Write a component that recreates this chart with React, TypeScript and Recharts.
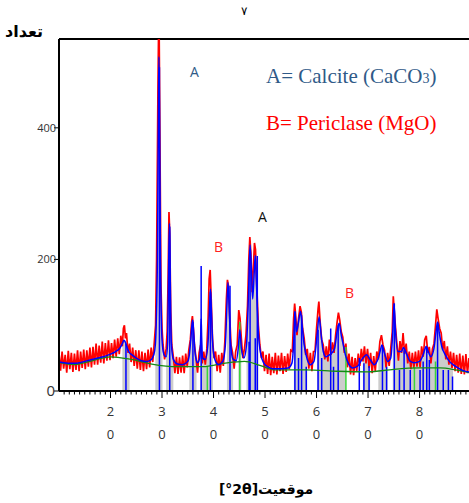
import { Area, ComposedChart, Line, ReferenceLine, XAxis, YAxis } from "recharts";

const observed: [number, number][] = [
  [10.0, 58], [10.3, 31], [10.6, 60], [10.9, 34], [11.2, 55], [11.5, 28], [11.8, 61], [12.1, 33],
  [12.4, 58], [12.7, 29], [13.0, 57], [13.3, 32], [13.6, 62], [13.9, 30], [14.2, 60], [14.5, 35],
  [14.8, 63], [15.1, 33], [15.4, 62], [15.7, 37], [16.0, 66], [16.3, 36], [16.6, 67], [16.9, 40],
  [17.2, 72], [17.5, 40], [17.8, 69], [18.1, 43], [18.4, 75], [18.7, 42], [19.0, 73], [19.3, 46],
  [19.6, 77], [19.9, 47], [20.2, 73], [20.5, 50], [20.8, 78], [21.1, 52], [21.4, 80], [21.7, 56],
  [22.0, 84], [22.3, 68], [22.5, 95], [22.7, 100], [22.9, 80], [23.1, 88], [23.4, 58], [23.7, 72],
  [24.0, 44], [24.3, 66], [24.6, 38], [24.9, 62], [25.2, 34], [25.5, 62], [25.8, 32], [26.1, 60],
  [26.4, 30], [26.7, 58], [27.0, 33], [27.3, 63], [27.6, 36], [27.9, 66], [28.2, 44], [28.5, 74],
  [28.75, 100], [28.95, 200], [29.2, 450], [29.35, 560], [29.45, 540], [29.6, 380], [29.8, 160],
  [30.0, 95], [30.2, 70], [30.5, 48], [30.8, 64], [31.0, 90], [31.2, 180], [31.35, 272], [31.5, 240],
  [31.7, 120], [31.9, 70], [32.2, 52], [32.5, 27], [32.8, 52], [33.1, 26], [33.4, 51], [33.7, 28],
  [34.0, 54], [34.3, 27], [34.6, 57], [34.9, 36], [35.2, 62], [35.5, 78], [35.75, 105], [35.9, 114],
  [36.05, 100], [36.3, 70], [36.6, 50], [36.9, 28], [37.2, 58], [37.5, 70], [37.8, 42], [38.1, 60],
  [38.4, 40], [38.7, 64], [38.95, 110], [39.15, 170], [39.35, 184], [39.55, 140], [39.8, 80],
  [40.1, 50], [40.4, 60], [40.7, 30], [41.0, 55], [41.3, 28], [41.6, 58], [41.9, 38], [42.2, 75],
  [42.5, 140], [42.7, 169], [42.9, 160], [43.1, 120], [43.4, 70], [43.7, 58], [44.0, 34], [44.3, 60],
  [44.6, 70], [44.9, 123], [45.15, 110], [45.4, 80], [45.7, 50], [46.0, 64], [46.3, 85], [46.6, 130],
  [46.85, 200], [47.05, 234], [47.25, 210], [47.5, 150], [47.75, 190], [47.95, 225], [48.15, 215],
  [48.4, 160], [48.7, 100], [49.0, 70], [49.3, 50], [49.6, 60], [49.9, 30], [50.2, 55], [50.5, 26],
  [50.8, 57], [51.1, 24], [51.4, 52], [51.7, 27], [52.0, 58], [52.3, 25], [52.6, 54], [52.9, 30],
  [53.2, 58], [53.5, 26], [53.8, 53], [54.1, 29], [54.4, 57], [54.7, 33], [55.0, 62], [55.3, 60],
  [55.55, 110], [55.75, 133], [55.95, 115], [56.2, 85], [56.5, 110], [56.8, 129], [57.05, 120],
  [57.3, 95], [57.6, 80], [57.9, 55], [58.2, 64], [58.5, 34], [58.8, 58], [59.1, 30], [59.4, 60],
  [59.7, 60], [60.0, 95], [60.3, 125], [60.45, 136], [60.7, 105], [61.0, 78], [61.3, 70], [61.6, 48],
  [61.9, 68], [62.2, 45], [62.5, 78], [62.8, 55], [63.1, 74], [63.4, 58], [63.7, 85], [64.0, 105],
  [64.25, 119], [64.5, 108], [64.8, 90], [65.1, 82], [65.4, 58], [65.7, 72], [66.0, 36], [66.3, 57],
  [66.6, 25], [66.9, 52], [67.2, 24], [67.5, 50], [67.8, 30], [68.1, 57], [68.4, 38], [68.7, 64],
  [69.0, 45], [69.3, 68], [69.6, 42], [69.9, 64], [70.2, 35], [70.5, 58], [70.8, 27], [71.1, 53],
  [71.4, 30], [71.7, 60], [72.0, 48], [72.3, 75], [72.6, 85], [72.9, 70], [73.2, 62], [73.5, 36],
  [73.8, 58], [74.1, 38], [74.4, 64], [74.7, 90], [74.9, 144], [75.1, 120], [75.35, 95], [75.6, 72],
  [75.9, 46], [76.2, 76], [76.5, 58], [76.8, 88], [77.1, 56], [77.4, 72], [77.7, 42], [78.0, 60],
  [78.3, 33], [78.6, 58], [78.9, 35], [79.2, 60], [79.5, 37], [79.8, 62], [80.1, 36], [80.4, 68],
  [80.7, 52], [81.0, 78], [81.3, 84], [81.6, 58], [81.9, 67], [82.2, 42], [82.5, 64], [82.8, 72],
  [83.1, 100], [83.35, 124], [83.6, 110], [83.9, 95], [84.2, 88], [84.5, 62], [84.8, 76], [85.1, 48],
  [85.4, 68], [85.7, 40], [86.0, 60], [86.3, 35], [86.6, 58], [86.9, 30], [87.2, 55], [87.5, 28],
  [87.8, 57], [88.1, 26], [88.4, 54], [88.7, 25], [89.0, 56], [89.3, 27], [89.6, 50],
];

// calculated profile (blue)
const calculated: [number, number][] = [
  [10, 44], [11, 43], [12, 42], [13, 42], [14, 43], [15, 45], [16, 47], [17, 49], [18, 51], [19, 53],
  [20, 56], [21, 60], [21.8, 65], [22.3, 72], [22.6, 77], [22.9, 74], [23.3, 64], [23.7, 58], [24, 56],
  [25, 50], [26, 46], [27, 45], [27.8, 47], [28.4, 55], [28.7, 70], [28.9, 110], [29.1, 200], [29.3, 420],
  [29.4, 508], [29.5, 430], [29.7, 200], [29.9, 100], [30.1, 68], [30.4, 55], [30.8, 52], [31.1, 75],
  [31.3, 200], [31.45, 255], [31.6, 170], [31.8, 75], [32.2, 48], [33, 41], [34, 40], [35, 45],
  [35.3, 55], [35.6, 80], [35.8, 100], [35.95, 108], [36.1, 95], [36.4, 60], [36.7, 46], [36.9, 43],
  [37.3, 50], [37.5, 80], [37.6, 110], [37.7, 80], [37.9, 50], [38.4, 48], [38.9, 70], [39.2, 120],
  [39.4, 155], [39.6, 120], [39.9, 65], [40.4, 45], [41, 40], [41.8, 45], [42.3, 70], [42.6, 130],
  [42.8, 165], [43.0, 135], [43.3, 75], [43.8, 48], [44.4, 46], [44.8, 65], [45.1, 93], [45.4, 65],
  [45.9, 50], [46.4, 70], [46.8, 150], [47.1, 222], [47.4, 175], [47.6, 140], [47.9, 180], [48.1, 206],
  [48.3, 170], [48.7, 90], [49.2, 55], [49.8, 42], [50.5, 37], [51.5, 34], [53, 34], [54.5, 35],
  [55.2, 42], [55.6, 80], [55.8, 121], [56.1, 90], [56.4, 100], [56.9, 121], [57.2, 100], [57.6, 70],
  [58.2, 48], [58.8, 40], [59.5, 45], [60.1, 85], [60.5, 113], [60.9, 85], [61.3, 60], [61.8, 52],
  [62.5, 55], [63, 58], [63.5, 65], [64.1, 95], [64.4, 103], [64.8, 85], [65.2, 70], [65.6, 55],
  [66.3, 40], [67, 35], [68, 38], [69, 50], [69.7, 55], [70.4, 48], [71.2, 40], [72, 50], [72.4, 62],
  [72.7, 70], [73.1, 60], [73.8, 45], [74.4, 50], [74.8, 90], [75.05, 133], [75.3, 95], [75.8, 60],
  [76.5, 60], [76.9, 66], [77.4, 58], [78.2, 45], [79, 43], [80, 45], [80.7, 55], [81.1, 65],
  [81.3, 68], [81.6, 62], [82.2, 52], [82.8, 65], [83.2, 90], [83.5, 105], [83.8, 90], [84.3, 68],
  [85, 55], [85.8, 45], [86.5, 40], [87.5, 35], [88.5, 31], [89.6, 29],
];

// fitted background (green curve)
const background: [number, number][] = [
  [10, 43], [13, 40], [16, 45], [20, 52], [24, 48], [28, 41], [33, 37], [38, 37], [42, 42], [46, 45],
  [49, 39], [52, 32], [58, 32], [64, 30], [70, 29], [75, 33], [80, 35], [84, 35], [87, 32], [89.6, 28],
];

// grey shaded peak regions [from, to]
const peakWindows: [number, number][] = [
  [22.3, 23.8], [28.6, 30.1], [30.6, 32.2], [35.2, 36.7], [37.4, 40.0], [42.4, 43.8], [44.5, 45.8],
  [46.4, 49.0], [55.4, 58.7], [59.7, 65.8], [68.1, 70.7], [72.0, 74.3], [74.6, 87.2],
];

// reference lines [position, height]
const blueSticks: [number, number][] = [
  [23.0, 72], [29.5, 492], [31.5, 250], [36.0, 105], [37.6, 190], [39.4, 150], [43.2, 160],
  [46.9, 75], [47.1, 215], [48.1, 80], [48.5, 205], [55.8, 121], [56.5, 50], [57.1, 115], [58.0, 37],
  [60.3, 93], [61.0, 50], [62.75, 95], [63.3, 37], [64.2, 100], [68.3, 50], [69.2, 42], [70.2, 38],
  [72.8, 67], [73.6, 37], [75.1, 133], [76.1, 32], [77.0, 62], [78.2, 32], [80.1, 32], [80.7, 45],
  [81.4, 67], [81.9, 47], [83.5, 103], [84.6, 32], [85.6, 32], [86.4, 22],
];
const greenSticks: [number, number][] = [
  [38.8, 37], [45.1, 105], [65.7, 67], [79.0, 37], [83.1, 45],
];

const xMajor = [20, 30, 40, 50, 60, 70, 80];
const xMinor = Array.from({ length: 79 }, (_, i) => 11 + i);
const yTicks = [0, 200, 400];

const X_DOMAIN: [number, number] = [10, 89.6];
const Y_TOP = 535;

const inWindow = (t: number) => peakWindows.some(([a, b]) => t >= a && t <= b);

const observedData = observed.map(([t, c]) => ({ t, c }));
const calcData = calculated.map(([t, c]) => ({ t, c, gray: inWindow(t) ? c : null }));
const bgData = background.map(([t, c]) => ({ t, c }));
const stickData = (list: [number, number][]) =>
  list.flatMap(([t, h]) => [{ t, v: 0 }, { t, v: h }, { t, v: null }]);

function XTick({ x, y, payload }: any) {
  const v = payload.value as number;
  const major = xMajor.includes(v);
  const s = String(v);
  return (
    <g>
      <line x1={x} x2={x} y1={y} y2={y + (major ? 7 : 3.5)} stroke="#000" strokeWidth={1} />
      {major && (
        <text textAnchor="middle" fontFamily="'Open Sans', sans-serif" fontSize={13} fill="#333">
          <tspan x={x} y={y + 25}>{s[0]}</tspan>
          <tspan x={x} y={y + 48}>{s[1]}</tspan>
        </text>
      )}
    </g>
  );
}

function YTick({ x, y, payload }: any) {
  const zero = payload.value === 0;
  return (
    <g>
      <line x1={x - 5} x2={x} y1={y} y2={y} stroke="#000" />
      <text
        x={zero ? x - 4 : x - 3}
        y={y}
        dy={zero ? 5 : 4}
        textAnchor="end"
        fontFamily="'Open Sans', sans-serif"
        fontSize={zero ? 15 : 11}
        fill="#333"
      >
        {payload.value}
      </text>
    </g>
  );
}

const overlay = { position: "absolute" as const, whiteSpace: "nowrap" as const, lineHeight: 1 };

export default function App() {
  return (
    <div style={{ position: "absolute", left: 0, top: 0, width: 469, height: 503, background: "#fff" }}>
      <ComposedChart width={469} height={503} margin={{ top: 39, right: 0, bottom: 52, left: 0 }}>
        <XAxis
          type="number"
          dataKey="t"
          domain={X_DOMAIN}
          allowDataOverflow
          ticks={xMinor}
          interval={0}
          tick={<XTick />}
          tickLine={false}
          tickSize={0}
          tickMargin={0}
          height={60}
          axisLine={{ stroke: "#000", strokeWidth: 2 }}
        />
        <YAxis
          type="number"
          domain={[0, Y_TOP]}
          allowDataOverflow
          ticks={yTicks}
          tick={<YTick />}
          tickLine={false}
          tickSize={0}
          tickMargin={0}
          width={59}
          axisLine={{ stroke: "#000", strokeWidth: 2 }}
        />
        <ReferenceLine y={Y_TOP} stroke="#000" strokeWidth={2} />
        <Area
          data={calcData}
          dataKey="gray"
          type="monotone"
          stroke="none"
          fill="#cccccc"
          fillOpacity={1}
          connectNulls={false}
          isAnimationActive={false}
        />
        <Line
          data={observedData}
          dataKey="c"
          type="linear"
          stroke="#ff0000"
          strokeWidth={1.7}
          dot={false}
          isAnimationActive={false}
        />
        <Line
          data={stickData(greenSticks)}
          dataKey="v"
          type="linear"
          stroke="#3ad43a"
          strokeWidth={1.5}
          dot={false}
          connectNulls={false}
          isAnimationActive={false}
        />
        <Line
          data={stickData(blueSticks)}
          dataKey="v"
          type="linear"
          stroke="#0000ff"
          strokeWidth={1.5}
          dot={false}
          connectNulls={false}
          isAnimationActive={false}
        />
        <Line
          data={bgData}
          dataKey="c"
          type="monotone"
          stroke="#138a13"
          strokeWidth={1.3}
          dot={false}
          isAnimationActive={false}
        />
        <Line
          data={calcData}
          dataKey="c"
          type="monotone"
          stroke="#0000ff"
          strokeWidth={1.5}
          dot={false}
          isAnimationActive={false}
        />
      </ComposedChart>

      <div style={{ ...overlay, left: 5, top: 24, fontFamily: "'DejaVu Sans', sans-serif", fontWeight: "bold", fontSize: 16, direction: "rtl" }}>
        تعداد
      </div>
      <div style={{ ...overlay, left: 241, top: 5, fontFamily: "'DejaVu Sans', sans-serif", fontSize: 12 }}>۷</div>
      <div style={{ ...overlay, left: 166, width: 200, textAlign: "center", top: 482, fontFamily: "'DejaVu Sans', sans-serif", fontWeight: "bold", fontSize: 14 }}>
        [°2θ]موقعیت
      </div>

      <div style={{ ...overlay, left: 190, top: 65, fontFamily: "'Open Sans', sans-serif", fontSize: 14, color: "#2f5a88" }}>A</div>
      <div style={{ ...overlay, left: 258, top: 210, fontFamily: "'Open Sans', sans-serif", fontSize: 14, color: "#111" }}>A</div>
      <div style={{ ...overlay, left: 214, top: 240, fontFamily: "'Open Sans', sans-serif", fontSize: 14, color: "#ff2020" }}>B</div>
      <div style={{ ...overlay, left: 345, top: 286, fontFamily: "'Open Sans', sans-serif", fontSize: 14, color: "#ff2020" }}>B</div>

      <div style={{ ...overlay, left: 266, top: 66, fontFamily: "'Liberation Serif', serif", fontSize: 21, color: "#2f5a88" }}>
        A= Calcite (CaCO<span style={{ fontSize: 14 }}>3</span>)
      </div>
      <div style={{ ...overlay, left: 266, top: 113, fontFamily: "'Liberation Serif', serif", fontSize: 21, color: "#ff0000" }}>
        B= Periclase (MgO)
      </div>
    </div>
  );
}
